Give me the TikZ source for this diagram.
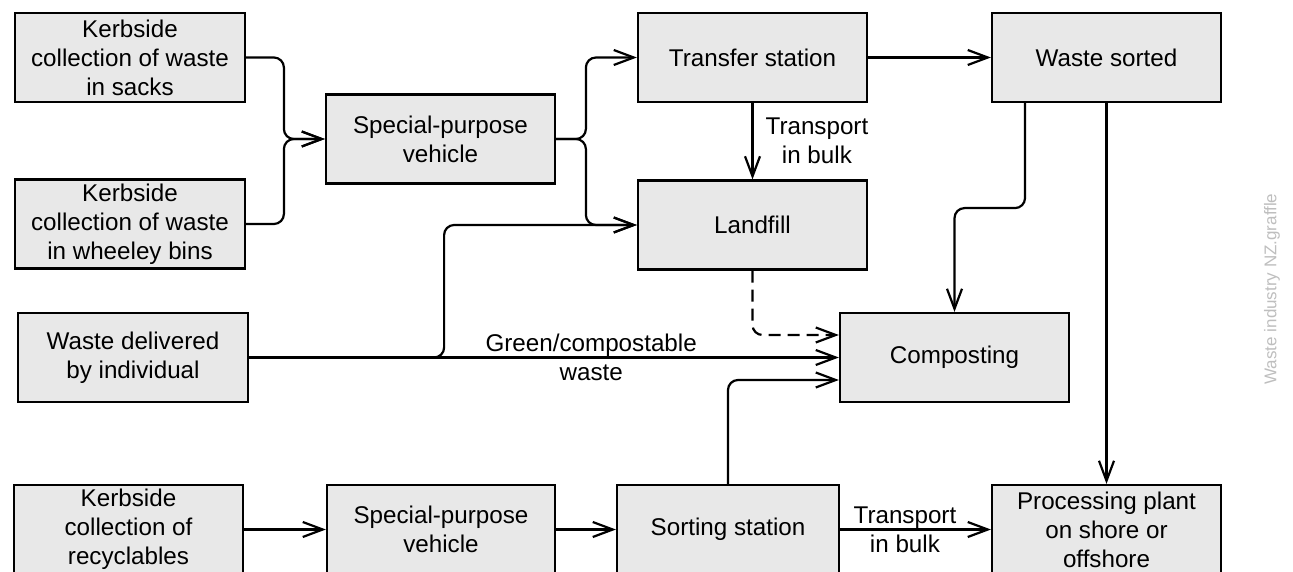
\documentclass[tikz,border=0pt]{standalone}
\usepackage{fontspec}
\setmainfont{Liberation Sans}
\usetikzlibrary{arrows.meta,calc}
\definecolor{boxfill}{RGB}{232,232,232}
\definecolor{wmark}{RGB}{190,190,190}
\tikzset{
  box/.style={draw=black, line width=2.2pt, fill=boxfill, minimum width=230pt, minimum height=89pt,
    inner sep=0pt, align=center, font=\fontsize{24.2}{29}\selectfont},
  conn/.style={line width=2.2pt, rounded corners=10pt, -{Straight Barb[length=20pt,width=15pt]}},
  lbl/.style={inner sep=0pt, align=center, font=\fontsize{24.2}{29}\selectfont}
}
\begin{document}
\begin{tikzpicture}[x=1pt,y=-1pt]
\useasboundingbox (0,0) rectangle (1293,572);
% nodes
\node[box] (k1) at (130,57.5) {Kerbside\\collection of waste\\in sacks};
\node[box] (k2) at (130,224) {Kerbside\\collection of waste\\in wheeley bins};
\node[box, minimum width=229pt] (spv1) at (440.5,139) {Special-purpose\\vehicle};
\node[box, minimum width=229pt] (ts) at (752.5,57.5) {Transfer station};
\node[box, minimum width=229pt] (lf) at (752.5,225) {Landfill};
\node[box, minimum width=229pt] (ws) at (1106.5,57.5) {Waste sorted};
\node[box] (wd) at (133,357.5) {Waste delivered\\by individual};
\node[box, minimum width=229pt] (comp) at (954.5,357.5) {Composting};
\node[box, minimum width=229pt] (kr) at (128.5,529.5) {Kerbside\\collection of\\recyclables};
\node[box, minimum width=228pt] (spv2) at (441,529.5) {Special-purpose\\vehicle};
\node[box, minimum width=222pt] (ss) at (728,529.5) {Sorting station};
\node[box, minimum width=229pt] (pp) at (1106.5,529.5) {Processing plant\\on shore or\\offshore};
% watermark
\node[rotate=90, text=wmark, inner sep=0pt, font=\fontsize{17}{20}\selectfont] (wm) at (1272,289) {Waste industry NZ.graffle};
% connectors
\draw[conn] (k1.east) -| ([xshift=-41pt]spv1.west) -- (spv1.west);
\draw[conn] (k2.east) -| ([xshift=-41pt]spv1.west) -- (spv1.west);
\draw[conn] (spv1.east) -| ([xshift=-51pt]ts.west) -- (ts.west);
\draw[conn] (spv1.east) -| ([xshift=-51pt]lf.west) -- (lf.west);
\draw[conn] (ts.south) -- (lf.north) node[midway, lbl, anchor=west, xshift=12pt] {Transport\\in bulk};
\draw[conn] (ts.east) -- (ws.west);
\draw[conn] ([xshift=-81.5pt]ws.south) -- ++(0,105) -| (comp.north);
\draw[conn] (ws.south) -- (pp.north);
\draw[conn, dash pattern=on 12pt off 7pt] (lf.south) |- ([yshift=22.5pt]comp.west);
\draw[conn] (wd.east) -- (comp.west) node[pos=0.58, lbl] {Green/compostable\\waste};
\draw[conn] (wd.east) -- ++(195,0) |- (lf.west);
\draw[conn] (ss.north) |- ([yshift=-22.5pt]comp.west);
\draw[conn] (kr.east) -- (spv2.west);
\draw[conn] (spv2.east) -- (ss.west);
\draw[conn] (ss.east) -- (pp.west) node[pos=0.43, lbl] {Transport\\in bulk};
\end{tikzpicture}
\end{document}
